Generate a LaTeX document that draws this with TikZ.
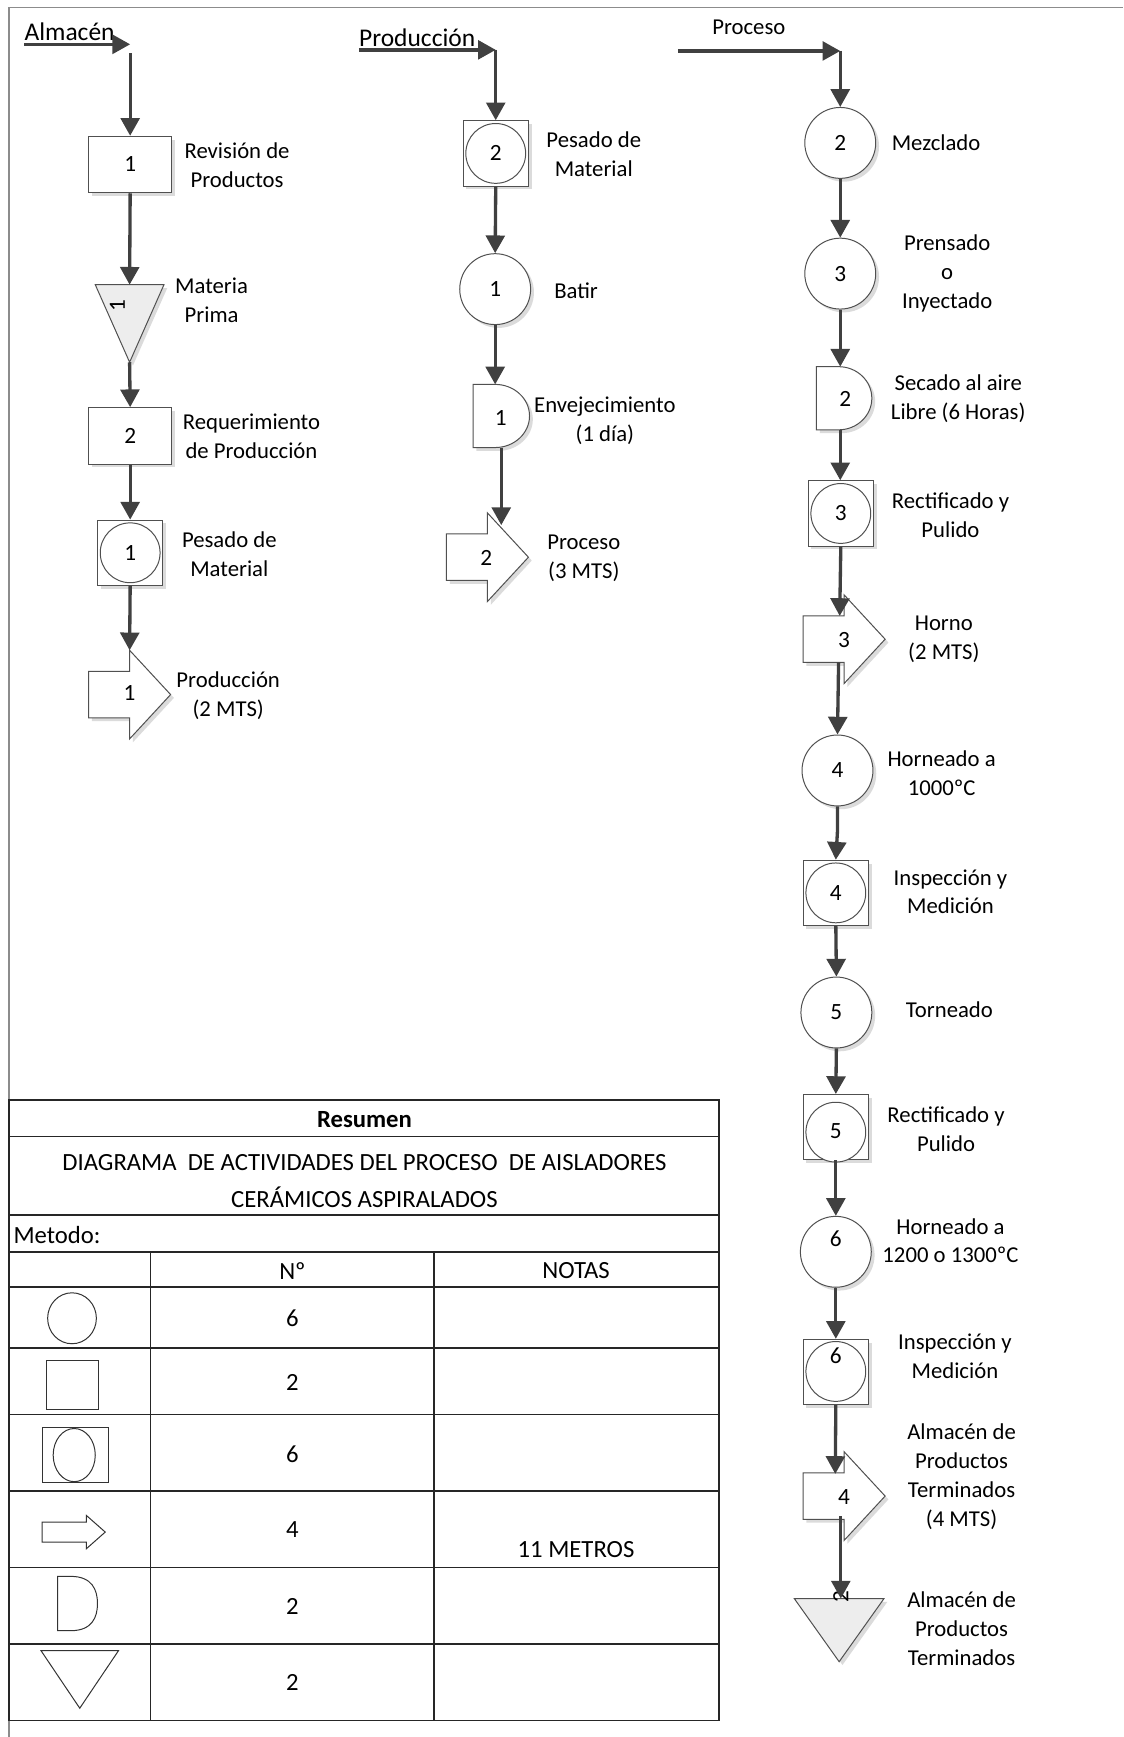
\documentclass[tikz,border=0pt]{standalone}
\usepackage{fontspec}
\setmainfont{Carlito}
\usetikzlibrary{arrows.meta,shadows,calc}
\definecolor{linec}{HTML}{404040}
\definecolor{shpc}{HTML}{505050}
\definecolor{framec}{HTML}{8C8C8C}
\definecolor{tabc}{HTML}{262626}
\definecolor{trifill}{HTML}{EDEDED}
\newcommand\lblfont{\fontsize{20.5}{26}\selectfont}
\newcommand\numfont{\fontsize{21}{24}\selectfont}
\newcommand\tabfont{\fontsize{22.3}{33}\selectfont}
\newcommand\headfont{\fontsize{23}{26}\selectfont}
\begin{document}
\begin{tikzpicture}[x=1pt,y=-1pt,
  conn/.style={draw=linec, line width=3pt, -{Triangle[length=16pt,width=17pt]}},
  plainconn/.style={draw=linec, line width=3pt},
  shadowed/.style={drop shadow={shadow xshift=3pt,shadow yshift=-3pt,fill=black!14,opacity=1,draw=none}},
  shp/.style={draw=shpc, line width=0.9pt, fill=white, shadowed},
  trishp/.style={draw=shpc, line width=0.9pt, fill=trifill, shadowed},
  circ/.style={circle, shp, minimum size=64pt, inner sep=0pt, font=\numfont},
  incirc/.style={circle, draw=shpc, line width=0.9pt, fill=white, minimum size=54pt, inner sep=0pt, font=\numfont},
  sqbox/.style={rectangle, shp, minimum width=59pt, minimum height=59pt, inner sep=0pt},
  opbox/.style={rectangle, shp, minimum width=75pt, minimum height=51pt, inner sep=0pt, font=\numfont},
  ghost/.style={rectangle, inner sep=0pt, outer sep=0pt},
  num/.style={font=\numfont, inner sep=0pt},
  lbl/.style={align=center, font=\lblfont, inner sep=0pt},
  tline/.style={draw=tabc, line width=1.5pt},
  sym/.style={draw=black!80, line width=0.9pt},
  ttext/.style={font=\tabfont, inner sep=0pt, align=center}
]
\useasboundingbox (0,0) rectangle (1014,1568);
% frame
\draw[framec, line width=1.2pt] (8,1568) -- (8,6.5) -- (1014,6.5);

% ================= Column 1: Almacen =================
\node[lbl, font=\headfont, anchor=base west] (t1) at (22,37) {Almacén};
\coordinate (h1a) at (22,40);
\coordinate (h1b) at (117.5,40);
\draw[conn] (h1a) -- (h1b);
\coordinate (s1) at (117.5,48);

\node[opbox] (b1) at (117.5,148.5) {1};
\node[lbl] (l1) at (214,149) {Revisión de\\Productos};

\node[ghost, minimum width=62pt, minimum height=70pt] (tri1) at (117,292) {};
\draw[trishp] (tri1.north west) -- (tri1.north east) -- (tri1.south) -- cycle;
\node[num, rotate=90] (tri1n) at (106,276) {1};
\node[lbl] (l2) at (191,271) {Materia\\Prima};

\node[opbox] (b2) at (117.5,393.5) {2};
\node[lbl] (l3) at (227,394) {Requerimiento\\de Producción};

\node[sqbox] (sc1) at (117.5,499) {};
\node[incirc] (sc1c) at (117.5,499) {1};
\node[lbl] (l4) at (207,500) {Pesado de\\Material};

\node[ghost, minimum width=74pt, minimum height=80pt] (ar1) at (117,627) {};
\draw[shp] ($(ar1.center)+(-37,-21)$) -- ++(37,0) -- ++(0,-19) -- ++(37,40) -- ++(-37,40) -- ++(0,-19) -- ++(-37,0) -- cycle;
\node[num] (ar1n) at (117,626) {1};
\node[lbl] (l5) at (206,628) {Producción\\(2 MTS)};

\draw[conn] (s1) -- (b1.north);
\draw[conn] (b1.south) -- (tri1.north);
\draw[conn] (tri1.south) -- (b2.north);
\draw[conn] (b2.south) -- (sc1.north);
\draw[conn] (sc1.south) -- (ar1.north);

% ================= Column 2: Produccion =================
\node[lbl, font=\headfont, anchor=base west] (t2) at (324,42) {Producción};
\coordinate (h2a) at (324,45);
\coordinate (h2b) at (447.5,45);
\draw[conn] (h2a) -- (h2b);

\node[sqbox] (sc2) at (447.5,138.5) {};
\node[incirc] (sc2c) at (447.5,138.5) {2};
\node[lbl] (l6) at (536,139) {Pesado de\\Material};

\node[circ] (c1) at (447,261) {1};
\node[lbl] (l7) at (520,262) {Batir};

\node[ghost, minimum width=51pt, minimum height=57pt] (d1) at (452.5,375.5) {};
\draw[shp] (d1.north west) -- ++(20,0) .. controls +(17.1,0) and +(0,-15.7) .. (d1.east) .. controls +(0,15.7) and +(17.1,0) .. ($(d1.south west)+(20,0)$) -- (d1.south west) -- cycle;
\node[num] (d1n) at (452,377) {1};
\node[lbl] (l8) at (546,380) {Envejecimiento\\(1 día)};

\node[ghost, minimum width=74pt, minimum height=80pt] (ar2) at (440,503) {};
\draw[shp] ($(ar2.center)+(-37,-21)$) -- ++(37,0) -- ++(0,-19) -- ++(37,40) -- ++(-37,40) -- ++(0,-19) -- ++(-37,0) -- cycle;
\node[num] (ar2n) at (439,504) {2};
\node[lbl] (l9) at (527,504) {Proceso\\(3 MTS)};

\draw[plainconn] (h2b) -- ++(0,2);
\draw[conn] (h2b) -- (sc2.north);
\draw[conn] (sc2.south) -- (c1.north);
\draw[conn] (c1.south) -- (c1.south |- d1.north);
\draw[conn] (d1.south) -- ($(ar2.north)+(12.5,11)$);

% ================= Column 3: Proceso =================
\node[lbl, font=\fontsize{20.5}{24}\selectfont] (t3) at (676,25) {Proceso};
\coordinate (h3a) at (612,46);
\coordinate (h3b) at (758.5,46);
\draw[conn] (h3a) -- (h3b);

\node[circ] (c2) at (758.5,129) {2};
\node[lbl] (l10) at (845,129) {Mezclado};

\node[circ] (c3) at (758.5,247) {3};
\node[lbl] (l11) at (855,247) {Prensado\\o\\Inyectado};

\node[ghost, minimum width=50pt, minimum height=57pt] (d2) at (762,359.5) {};
\draw[shp] (d2.north west) -- ++(20,0) .. controls +(16.6,0) and +(0,-15.7) .. (d2.east) .. controls +(0,15.7) and +(16.6,0) .. ($(d2.south west)+(20,0)$) -- (d2.south west) -- cycle;
\node[num] (d2n) at (763,360) {2};
\node[lbl] (l12) at (865,360) {Secado al aire\\Libre (6 Horas)};

\node[sqbox] (sc3) at (759,463.5) {};
\node[incirc] (sc3c) at (759,463.5) {3};
\node[lbl] (l13) at (858,465) {Rectificado y\\Pulido};

\node[ghost, minimum width=74pt, minimum height=80pt] (ar3) at (762,577) {};
\draw[shp] ($(ar3.center)+(-37,-21)$) -- ++(37,0) -- ++(0,-19) -- ++(37,40) -- ++(-37,40) -- ++(0,-19) -- ++(-37,0) -- cycle;
\node[num] (ar3n) at (762,578) {3};
\node[lbl] (l14) at (852,577) {Horno\\(2 MTS)};

\node[circ] (c4) at (756,695.5) {4};
\node[lbl] (l15) at (850,698) {Horneado a\\1000ºC};

\node[sqbox] (sc4) at (754.5,806) {};
\node[incirc] (sc4c) at (754.5,806) {4};
\node[lbl] (l16) at (858,805) {Inspección y\\Medición};

\node[circ] (c5) at (755,914) {5};
\node[lbl] (l17) at (857,911) {Torneado};

\node[sqbox] (sc5) at (754.5,1017.5) {};
\node[incirc, label={[num, yshift=1pt]center:5}] (sc5c) at (754.5,1022) {};
\node[lbl] (l18) at (854,1019) {Rectificado y\\Pulido};

\node[circ, label={[num, yshift=12pt]center:6}] (c6) at (754.5,1130) {};
\node[lbl] (l19) at (858,1120) {Horneado a\\1200 o 1300ºC};

\node[sqbox] (sc6) at (754.5,1238.5) {};
\node[incirc, label={[num, yshift=14pt]center:6}] (sc6c) at (754.5,1238) {};
\node[lbl] (l20) at (862,1224) {Inspección y\\Medición};

\node[ghost, minimum width=74pt, minimum height=80pt] (ar4) at (762,1350.5) {};
\draw[shp] ($(ar4.center)+(-37,-21)$) -- ++(37,0) -- ++(0,-19) -- ++(37,40) -- ++(-37,40) -- ++(0,-19) -- ++(-37,0) -- cycle;
\node[num] (ar4n) at (762,1351) {4};
\node[lbl] (l21) at (868,1333) {Almacén de\\Productos\\Terminados\\(4 MTS)};

\node[ghost, minimum width=81pt, minimum height=57pt] (tri2) at (757.5,1471.5) {};
\draw[trishp] (tri2.north west) -- (tri2.north east) -- (tri2.south) -- cycle;
\node[num, rotate=90] (tri2n) at (759,1441) {2};
\node[lbl] (l22) at (868,1470) {Almacén de\\Productos\\Terminados};

\draw[plainconn] (h3b) -- ++(0,2);
\draw[conn] (h3b) -- (c2.north);
\draw[conn] (c2.south) -- (c3.north);
\draw[conn] (c3.south) -- (c3.south |- d2.north);
\draw[conn] (c3.south |- d2.south) -- (c3.south |- sc3.north);
\draw[conn] (sc3.south) -- ($(ar3.center)+(-4,-21)$);
\draw[conn] ($(ar3.center)+(-5,21)$) -- (c4.north);
\draw[conn] (c4.south) -- ++(0,22) -- (sc4.north);
\draw[conn] (sc4.south) -- (c5.north);
\draw[conn] (c5.south) -- (sc5.north);
\draw[conn] (sc5.south) -- (c6.north);
\draw[conn] (c6.south) -- (sc6.north);
\draw[conn] (sc6.south) -- ($(ar4.center)+(-8,-20)$);
\draw[conn] ($(ar4.center)+(-3,18)$) -- ($(tri2.north)+(1.5,0)$);

% ================= Table =================
\draw[tline] (8,993) rectangle (649,1553);
\foreach \yy in {1026,1097,1130,1162,1217,1277,1346,1415,1484}
  \draw[tline] (8,\yy) -- (649,\yy);
\draw[tline] (136,1130) -- (136,1553);
\draw[tline] (392,1130) -- (392,1553);

\node[ttext] (tr) at (329,1011) {\bfseries Resumen};
\node[ttext] (tt) at (329,1066) {DIAGRAMA\ \ DE ACTIVIDADES DEL PROCESO\ \ DE AISLADORES\\CERÁMICOS ASPIRALADOS};
\node[ttext, anchor=west] (tm) at (12,1115) {Metodo:};
\node[ttext] (th1) at (264,1147) {Nº};
\node[ttext] (th2) at (520,1147) {NOTAS};
\node[ttext] (n1) at (264,1190) {6};
\node[ttext] (n2) at (264,1248) {2};
\node[ttext] (n3) at (264,1313) {6};
\node[ttext] (n4) at (264,1381) {4};
\node[ttext] (n5) at (264,1450) {2};
\node[ttext] (n6) at (264,1519) {2};
\node[ttext] (nm) at (520,1399) {11 METROS};

% table symbols
\draw[sym] (65,1190) ellipse [x radius=22, y radius=23];
\draw[sym] (42,1228) rectangle (89,1272);
\draw[sym] (38,1289) rectangle (98,1338);
\draw[sym] (67,1313.5) ellipse [x radius=19, y radius=24];
\draw[sym] (38,1374) -- (78,1374) -- (78,1368) -- (95,1383) -- (78,1398) -- (78,1392) -- (38,1392) -- cycle;
\draw[sym] (52,1423) -- (64,1423) .. controls (83,1423) and (88,1435) .. (88,1447.5) .. controls (88,1460) and (83,1472) .. (64,1472) -- (52,1472) -- cycle;
\draw[sym] (37,1490) -- (107,1490) -- (72,1542) -- cycle;
\end{tikzpicture}
\end{document}
